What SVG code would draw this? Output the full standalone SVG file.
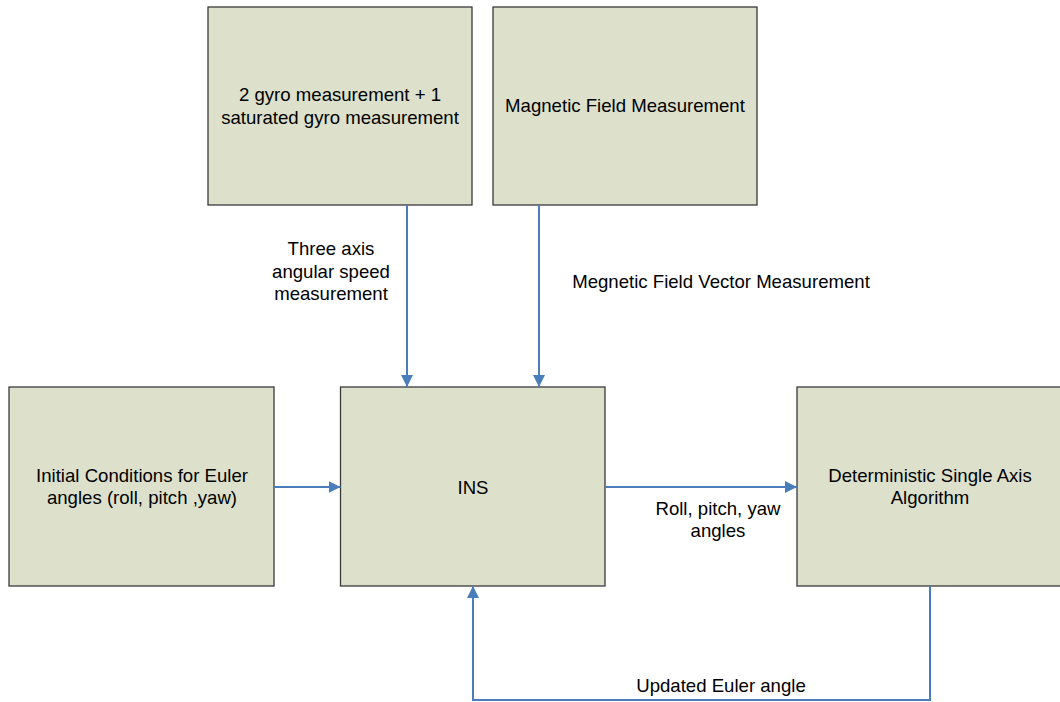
<svg xmlns="http://www.w3.org/2000/svg" width="1060" height="702" viewBox="0 0 1060 702">
<style>
.box{fill:#DDE0CB;stroke:#3A3A3A;stroke-width:1.3}
.t{font-family:"Liberation Sans",Arial,sans-serif;font-size:18.6px;fill:#000;text-anchor:middle}
.c{fill:none;stroke:#4A7EBB;stroke-width:2}
</style>
<defs>
<marker id="ah" viewBox="0 0 10 10" refX="10" refY="5" markerWidth="6" markerHeight="6" markerUnits="strokeWidth" orient="auto">
<path d="M0,0 L10,5 L0,10 z" fill="#4A7EBB"/>
</marker>
</defs>
<rect width="1060" height="702" fill="#fff"/>
<g id="gyro"><rect class="box" x="208" y="7" width="264" height="198"/>
<text class="t" x="340" y="101">2 gyro measurement + 1</text>
<text class="t" x="340" y="124">saturated gyro measurement</text></g>
<g id="mag"><rect class="box" x="493" y="7" width="264" height="198"/>
<text class="t" x="625" y="112">Magnetic Field Measurement</text></g>
<g id="init"><rect class="box" x="9" y="387" width="265" height="199"/>
<text class="t" x="142" y="482">Initial Conditions for Euler</text>
<text class="t" x="142" y="504">angles (roll, pitch ,yaw)</text></g>
<g id="ins"><rect class="box" x="340.5" y="387" width="264.5" height="199"/>
<text class="t" x="473" y="494">INS</text></g>
<g id="dsa"><rect class="box" x="797" y="387" width="270" height="199"/>
<text class="t" x="930" y="482">Deterministic Single Axis</text>
<text class="t" x="930" y="504">Algorithm</text></g>
<g id="connectors">
<line class="c" x1="407" y1="205" x2="407" y2="387" marker-end="url(#ah)"/>
<line class="c" x1="539" y1="205" x2="539" y2="387" marker-end="url(#ah)"/>
<line class="c" x1="274" y1="487" x2="340.5" y2="487" marker-end="url(#ah)"/>
<line class="c" x1="605" y1="487" x2="797" y2="487" marker-end="url(#ah)"/>
<polyline class="c" points="930,586 930,700 473,700 473,586" marker-end="url(#ah)"/>
<text class="t" x="331" y="255">Three axis</text>
<text class="t" x="331" y="278">angular speed</text>
<text class="t" x="331" y="300">measurement</text>
<text class="t" x="721" y="288">Megnetic Field Vector Measurement</text>
<text class="t" x="718" y="515">Roll, pitch, yaw</text>
<text class="t" x="718" y="537">angles</text>
<text class="t" x="721" y="692">Updated Euler angle</text>
</g>
</svg>
